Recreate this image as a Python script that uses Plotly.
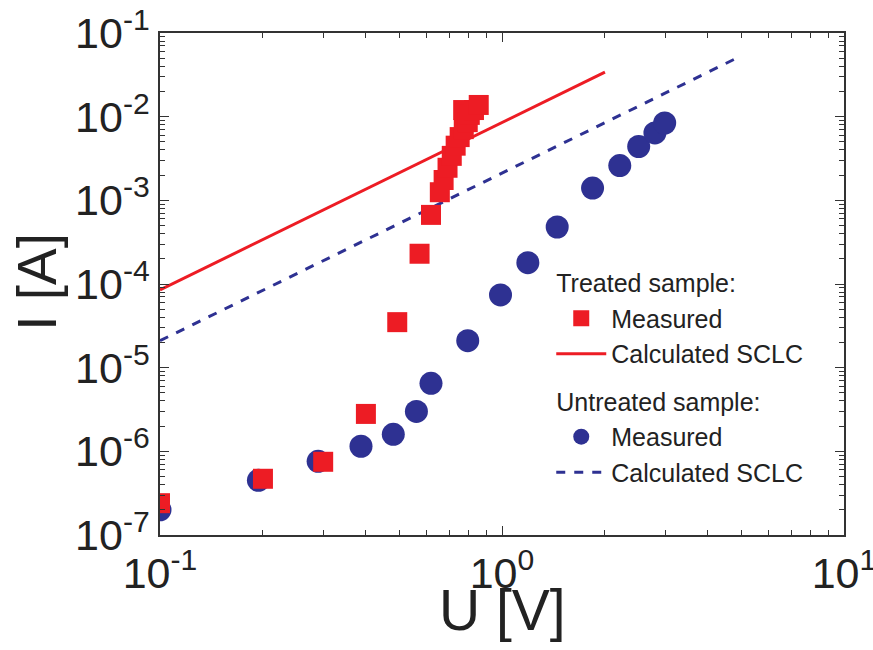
import plotly.graph_objects as go

# Treated sample, measured
treated_u = [0.1, 0.2, 0.3, 0.4, 0.494, 0.574, 0.62, 0.658, 0.675, 0.693, 0.713, 0.732,
             0.752, 0.773, 0.77, 0.794, 0.805, 0.828, 0.855]
treated_i = [2.4e-7, 4.7e-7, 7.5e-7, 2.8e-6, 3.5e-5, 2.3e-4, 6.7e-4, 1.25e-3, 1.75e-3,
             2.45e-3, 3.4e-3, 4.5e-3, 5.7e-3, 7.1e-3, 1.2e-2, 8.6e-3, 1.05e-2, 1.2e-2, 1.38e-2]

# Untreated sample, measured
untreated_u = [0.1, 0.194, 0.29, 0.387, 0.481, 0.562, 0.62, 0.794, 0.99, 1.19, 1.45,
               1.84, 2.21, 2.51, 2.8, 2.99]
untreated_i = [2.0e-7, 4.5e-7, 7.6e-7, 1.15e-6, 1.6e-6, 3.0e-6, 6.5e-6, 2.1e-5, 7.4e-5,
               1.8e-4, 4.8e-4, 1.4e-3, 2.6e-3, 4.4e-3, 6.4e-3, 8.4e-3]

# Calculated SCLC curves (endpoints)
sclc_treated_u = [0.1, 2.0]
sclc_treated_i = [8.5e-5, 3.4e-2]
sclc_untreated_u = [0.1, 4.85]
sclc_untreated_i = [2.1e-5, 5.0e-2]

x_tickvals = [0.1, 1, 10]
x_ticktext = ["10<sup>-1</sup>", "10<sup>0</sup>", "10<sup>1</sup>"]
y_tickvals = [1e-7, 1e-6, 1e-5, 1e-4, 1e-3, 1e-2, 1e-1]
y_ticktext = ["10<sup>-7</sup>", "10<sup>-6</sup>", "10<sup>-5</sup>", "10<sup>-4</sup>",
              "10<sup>-3</sup>", "10<sup>-2</sup>", "10<sup>-1</sup>"]

x_minor = [m * d for d in x_tickvals[:-1] for m in range(2, 10)]
y_minor = [m * d for d in y_tickvals[:-1] for m in range(2, 10)]

RED = "#ED1C24"
BLUE = "#2E3192"

fig = go.Figure()
fig.add_trace(go.Scatter(
    x=sclc_untreated_u, y=sclc_untreated_i, mode="lines",
    line=dict(color=BLUE, width=3, dash="dash"), name="Calculated SCLC",
    legendgroup="untreated", legendrank=4, showlegend=True))
fig.add_trace(go.Scatter(
    x=untreated_u, y=untreated_i, mode="markers",
    marker=dict(symbol="circle", size=23, color=BLUE, line=dict(width=0)),
    name="Measured", legendgroup="untreated", legendrank=3,
    legendgrouptitle=dict(text="Untreated sample:")))
fig.add_trace(go.Scatter(
    x=sclc_treated_u, y=sclc_treated_i, mode="lines",
    line=dict(color=RED, width=3), name="Calculated SCLC",
    legendgroup="treated", legendrank=2))
fig.add_trace(go.Scatter(
    x=treated_u, y=treated_i, mode="markers",
    marker=dict(symbol="square", size=20, color=RED, line=dict(width=0)),
    name="Measured", legendgroup="treated", legendrank=1,
    legendgrouptitle=dict(text="Treated sample:")))

axis_common = dict(
    type="log", showline=True, linecolor="#333333", linewidth=1.5, mirror="ticks",
    ticks="inside", ticklen=9, tickwidth=1.2, tickcolor="#333333",
    showgrid=False, zeroline=False, automargin=False, ticklabeloverflow="allow",
    tickfont=dict(family="Liberation Sans, Arial", size=43, color="#222222"),
)

fig.update_layout(
    width=873, height=650,
    paper_bgcolor="white", plot_bgcolor="white",
    margin=dict(l=160, r=29, t=33, b=115),
    font=dict(family="Liberation Sans, Arial", color="#222222"),
    xaxis=dict(axis_common, range=[-1, 1], tickvals=x_tickvals, ticktext=x_ticktext,
               minor=dict(tickvals=x_minor, ticks="inside", ticklen=5, tickwidth=1,
                          tickcolor="#333333", showgrid=False)),
    yaxis=dict(axis_common, range=[-7, -1], tickvals=y_tickvals, ticktext=y_ticktext,
               minor=dict(tickvals=y_minor, ticks="inside", ticklen=5, tickwidth=1,
                          tickcolor="#333333", showgrid=False)),
    legend=dict(x=0.572, y=0.548, xanchor="left", yanchor="top",
                bgcolor="rgba(0,0,0,0)", font=dict(size=25, color="#222222"),
                grouptitlefont=dict(size=25, color="#222222"),
                tracegroupgap=12, itemwidth=50, traceorder="grouped"),
    annotations=[
        dict(text="U [V]", xref="paper", yref="paper", x=0.5, y=-0.15,
             xanchor="center", yanchor="middle", showarrow=False,
             font=dict(size=57, color="#222222")),
        dict(text="I [A]", xref="paper", yref="paper", x=-0.18, y=0.504,
             xanchor="center", yanchor="middle", showarrow=False, textangle=-90,
             font=dict(size=55, color="#222222")),
    ],
)

fig.write_html(
    "out.html",
    config={"displayModeBar": False},
    post_script="document.body.style.margin='0';document.body.style.overflow='hidden';",
)
